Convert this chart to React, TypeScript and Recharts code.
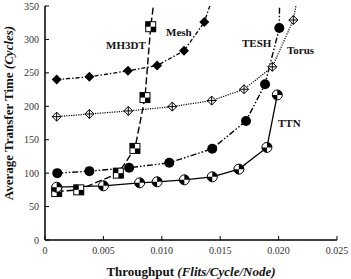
import React from 'react';
import { LineChart, Line, XAxis, YAxis } from 'recharts';

// throughput (flits/cycle/node) vs average transfer time (cycles)
const meshX = [0.001, 0.0038, 0.0071, 0.0096, 0.0119, 0.01364, 0.0147];
const meshY = [240, 244, 253, 261, 283, 326, 380];
const torusX = [0.001, 0.0038, 0.00713, 0.0109, 0.01427, 0.01704, 0.01946, 0.02126, 0.0218];
const torusY = [184.5, 188.5, 193, 199.5, 208.5, 225.5, 259, 329, 380];
const teshX = [0.00105, 0.0038, 0.0072, 0.01064, 0.01432, 0.01721, 0.01884, 0.02006, 0.0201];
const teshY = [100, 103, 108, 115.5, 136.5, 178, 233, 317, 380];
const mh3dtX = [0.001, 0.00289, 0.00628, 0.0077, 0.00856, 0.00905, 0.0095];
const mh3dtY = [72.5, 75, 100, 137, 213, 319, 380];
const ttnX = [0.001, 0.005, 0.0081, 0.0096, 0.01193, 0.01432, 0.0166, 0.019, 0.01989];
const ttnY = [79, 81, 85.5, 87, 90, 94.5, 106, 138.5, 217];

const xTicks = [0, 0.005, 0.01, 0.015, 0.02, 0.025];
const yTicks = [0, 50, 100, 150, 200, 250, 300, 350];

const toRows = (xs: number[], ys: number[]) => xs.map((x, i) => ({ x, y: ys[i] }));

const Y_MAX = 350;
const FONT = '"Liberation Serif", "Times New Roman", serif';

const visible = (props: any) => props.payload && props.payload.y <= Y_MAX;

const FilledDiamond = (props: any) => {
  const { cx, cy } = props;
  if (!visible(props)) return null;
  const r = 5;
  return <path d={`M${cx},${cy - r}L${cx + r},${cy}L${cx},${cy + r}L${cx - r},${cy}Z`} fill="#000" />;
};

const OpenDiamond = (props: any) => {
  const { cx, cy } = props;
  if (!visible(props)) return null;
  const r = 4.5;
  return (
    <g>
      <path d={`M${cx},${cy - r}L${cx + r},${cy}L${cx},${cy + r}L${cx - r},${cy}Z`} fill="#fff" stroke="#000" strokeWidth={1} />
      <line x1={cx} y1={cy - r} x2={cx} y2={cy + r} stroke="#000" strokeWidth={1} />
      <line x1={cx - r} y1={cy} x2={cx + r} y2={cy} stroke="#000" strokeWidth={1} />
    </g>
  );
};

const FilledCircle = (props: any) => {
  const { cx, cy } = props;
  if (!visible(props)) return null;
  return <circle cx={cx} cy={cy} r={5} fill="#000" />;
};

const CheckerSquare = (props: any) => {
  const { cx, cy } = props;
  if (!visible(props)) return null;
  const h = 5;
  return (
    <g>
      <rect x={cx - h} y={cy - h} width={2 * h} height={2 * h} fill="#fff" stroke="#000" strokeWidth={1} />
      <rect x={cx - h} y={cy - h} width={h} height={h} fill="#000" />
      <rect x={cx} y={cy} width={h} height={h} fill="#000" />
    </g>
  );
};

const HalfCircle = (props: any) => {
  const { cx, cy } = props;
  if (!visible(props)) return null;
  const r = 5;
  return (
    <g>
      <circle cx={cx} cy={cy} r={r} fill="#fff" stroke="#000" strokeWidth={1} />
      <path d={`M${cx},${cy}L${cx},${cy - r}A${r},${r} 0 0 1 ${cx + r},${cy}Z`} fill="#000" />
      <path d={`M${cx},${cy}L${cx},${cy + r}A${r},${r} 0 0 1 ${cx - r},${cy}Z`} fill="#000" />
    </g>
  );
};

const fmtX = (v: number) => (v === 0 ? '0' : v.toFixed(3));
const blank = () => '';

const tickStyle = { fontSize: 10, fill: '#333', fontFamily: FONT };
const labelStyle = { fontFamily: FONT, fontWeight: 'bold' as const, fontSize: 11, fill: '#111' };

export default function App() {
  return (
    <div style={{ position: 'absolute', left: 0, top: 0, width: 351, height: 279, background: '#fff' }}>
      <LineChart width={351} height={279} margin={{ top: 6, right: 14, bottom: 9, left: 0 }}>
        <XAxis
          xAxisId="b"
          type="number"
          dataKey="x"
          domain={[0, 0.025]}
          ticks={xTicks}
          tickFormatter={fmtX}
          height={30}
          tickSize={-4}
          tickMargin={11}
          tick={tickStyle}
          stroke="#000"
          axisLine={{ stroke: '#000', strokeWidth: 1.5 }}
          allowDataOverflow
        />
        <XAxis
          xAxisId="t"
          orientation="top"
          type="number"
          dataKey="x"
          domain={[0, 0.025]}
          ticks={xTicks}
          tickFormatter={blank}
          height={0}
          tickSize={-4}
          stroke="#000"
          axisLine={{ stroke: '#000', strokeWidth: 1.5 }}
        />
        <YAxis
          yAxisId="l"
          type="number"
          domain={[0, Y_MAX]}
          ticks={yTicks}
          width={45}
          tickSize={-4}
          tickMargin={10}
          tick={tickStyle}
          stroke="#000"
          axisLine={{ stroke: '#000', strokeWidth: 1.5 }}
          allowDataOverflow
        />
        <YAxis
          yAxisId="r"
          orientation="right"
          type="number"
          domain={[0, Y_MAX]}
          ticks={yTicks}
          tickFormatter={blank}
          width={0}
          tickSize={-4}
          stroke="#000"
          axisLine={{ stroke: '#000', strokeWidth: 1.5 }}
        />
        <Line xAxisId="b" yAxisId="l" data={toRows(meshX, meshY)} dataKey="y" stroke="#000" strokeWidth={1.3}
          strokeDasharray="4 2 1.5 2" dot={<FilledDiamond />} isAnimationActive={false} />
        <Line xAxisId="b" yAxisId="l" data={toRows(torusX, torusY)} dataKey="y" stroke="#000" strokeWidth={1.2}
          strokeDasharray="1.2 1.2" dot={<OpenDiamond />} isAnimationActive={false} />
        <Line xAxisId="b" yAxisId="l" data={toRows(teshX, teshY)} dataKey="y" stroke="#000" strokeWidth={1.4}
          strokeDasharray="6 2 1.5 2 1.5 2" dot={<FilledCircle />} isAnimationActive={false} />
        <Line xAxisId="b" yAxisId="l" data={toRows(mh3dtX, mh3dtY)} dataKey="y" stroke="#000" strokeWidth={1.4}
          strokeDasharray="7 3" dot={<CheckerSquare />} isAnimationActive={false} />
        <Line xAxisId="b" yAxisId="l" data={toRows(ttnX, ttnY)} dataKey="y" stroke="#000" strokeWidth={1.3}
          dot={<HalfCircle />} isAnimationActive={false} />

        <text x={106} y={49} style={labelStyle}>MH3DT</text>
        <text x={166} y={36} style={labelStyle}>Mesh</text>
        <text x={242} y={47} style={labelStyle}>TESH</text>
        <text x={287} y={54} style={labelStyle}>Torus</text>
        <text x={278} y={127} style={labelStyle}>TTN</text>

        <text x={191} y={276} textAnchor="middle" style={{ fontFamily: FONT, fontWeight: 'bold', fontSize: 13, fill: '#111' }}>
          Throughput <tspan fontStyle="italic">(Flits/Cycle/Node)</tspan>
        </text>
        <text x={13} y={113} textAnchor="middle" transform="rotate(-90 13 113)"
          style={{ fontFamily: FONT, fontWeight: 'bold', fontSize: 13, fill: '#111' }}>
          Average Transfer Time <tspan fontStyle="italic">(Cycles)</tspan>
        </text>
      </LineChart>
    </div>
  );
}
